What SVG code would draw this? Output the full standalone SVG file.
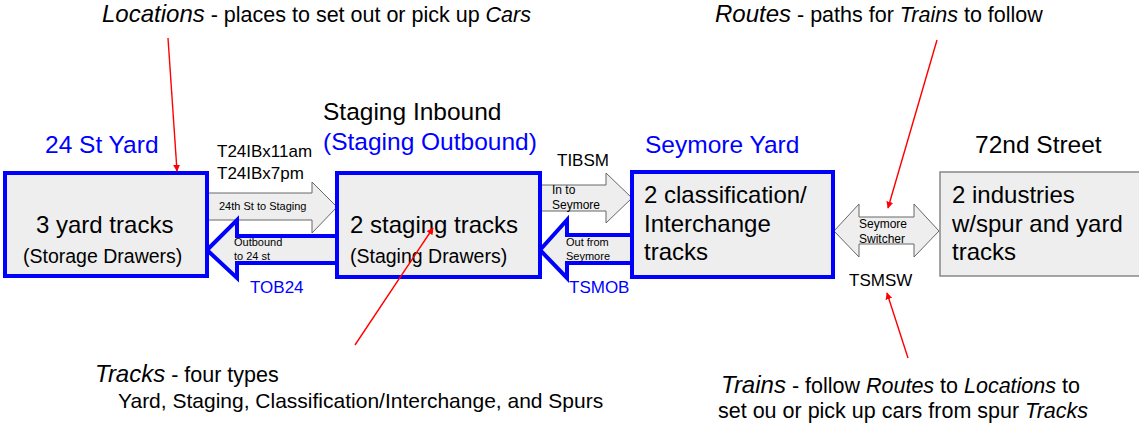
<svg xmlns="http://www.w3.org/2000/svg" width="1139" height="427" viewBox="0 0 1139 427">
  <style>
    text { font-family: "Liberation Sans", Arial, sans-serif; fill: #000; }
    .blue { fill: #0000ff; }
    .it { font-style: italic; }
    .box { fill: #eeeeee; stroke: #0000ff; stroke-width: 4; }
    .box-plain { fill: #eeeeee; stroke: #888888; stroke-width: 1.5; }
    .arr-gray { fill: #eeeeee; stroke: #666666; stroke-width: 1; stroke-linejoin: miter; }
    .arr-blue { fill: #eeeeee; stroke: #0000ff; stroke-width: 4; stroke-linejoin: miter; }
    .note { stroke: #ff0000; stroke-width: 1.4; fill: none; marker-end: url(#red-head); }
    .t24 { font-size: 24px; }
    .h24 { font-size: 24.5px; }
    .t19 { font-size: 19.5px; }
    .t17 { font-size: 17px; }
    .t11 { font-size: 11px; }
    .t12 { font-size: 12px; }
    .t21 { font-size: 21.5px; }
    .t21s { font-size: 21px; }
  </style>
  <defs>
    <marker id="red-head" viewBox="0 0 10 10" refX="9" refY="5" markerWidth="7" markerHeight="7" markerUnits="userSpaceOnUse" orient="auto">
      <path d="M0,0 L10,5 L0,10 Z" fill="#ff0000"/>
    </marker>
  </defs>

  <!-- connectors: train routes between locations -->
  <g id="connectors">
    <path class="arr-gray" d="M207,193 L312,193 L312,182 L337,207 L312,233 L312,220 L207,220 Z"/>
    <path class="arr-blue" d="M207,250 L237,220 L237,236 L337,236 L337,263 L237,263 L237,278 Z"/>
    <path class="arr-gray" d="M540,185 L606,185 L606,173 L632,198 L606,223 L606,211 L540,211 Z"/>
    <path class="arr-blue" d="M540,250 L567,220 L567,235 L632,235 L632,263 L567,263 L567,278 Z"/>
    <path class="arr-gray" d="M834,231 L859,204 L859,217 L914,217 L914,204 L939,231 L914,257 L914,244 L859,244 L859,257 Z"/>

    <text class="t17" x="217" y="157">T24IBx11am</text>
    <text class="t17" x="217" y="179">T24IBx7pm</text>
    <text class="t11" x="219" y="210">24th St to Staging</text>
    <text class="t11" x="234" y="246">Outbound</text>
    <text class="t11" x="234" y="260">to 24 st</text>
    <text class="t17 blue" x="250" y="293">TOB24</text>

    <text class="t17" x="557" y="166">TIBSM</text>
    <text class="t12" x="552" y="194">In to</text>
    <text class="t12" x="552" y="209">Seymore</text>
    <text class="t11" x="566" y="246">Out from</text>
    <text class="t11" x="566" y="260">Seymore</text>
    <text class="t17 blue" x="569" y="293">TSMOB</text>

    <text class="t12" x="859" y="228">Seymore</text>
    <text class="t12" x="859" y="243">Switcher</text>
    <text class="t17" x="849" y="286">TSMSW</text>
  </g>

  <!-- 24 St Yard -->
  <g id="yard24">
    <text class="h24 blue" x="45" y="153">24 St Yard</text>
    <rect class="box" x="5" y="173" width="202" height="103"/>
    <text class="t24" x="36" y="233">3 yard tracks</text>
    <text class="t19" x="23" y="263">(Storage Drawers)</text>
  </g>

  <!-- Staging -->
  <g id="staging">
    <text class="h24" x="323" y="120">Staging Inbound</text>
    <text class="h24 blue" x="323" y="150">(Staging Outbound)</text>
    <rect class="box" x="337" y="173" width="203" height="104"/>
    <text class="t24" x="350" y="233">2 staging tracks</text>
    <text class="t19" x="350" y="263">(Staging Drawers)</text>
  </g>

  <!-- Seymore Yard -->
  <g id="seymore">
    <text class="h24 blue" x="645" y="153">Seymore Yard</text>
    <rect class="box" x="632" y="172" width="201" height="105"/>
    <text class="t24" x="644" y="203">2 classification/</text>
    <text class="t24" x="644" y="232">Interchange</text>
    <text class="t24" x="644" y="260">tracks</text>
  </g>

  <!-- 72nd Street -->
  <g id="street72">
    <text class="h24" x="975" y="153">72nd Street</text>
    <rect class="box-plain" x="940" y="172" width="210" height="104"/>
    <text class="t24" x="952" y="203">2 industries</text>
    <text class="t24" x="952" y="232">w/spur and yard</text>
    <text class="t24" x="952" y="260">tracks</text>
  </g>

  <!-- explanatory notes -->
  <g id="notes">
    <text x="102" y="22" class="t21"><tspan class="it t24">Locations</tspan> - places to set out or pick up <tspan class="it">Cars</tspan></text>
    <line class="note" x1="168" y1="38" x2="177" y2="171"/>

    <text x="715" y="22" class="t21"><tspan class="it t24">Routes</tspan> - paths for <tspan class="it">Trains</tspan> to follow</text>
    <line class="note" x1="937" y1="40" x2="888" y2="208"/>

    <text x="95" y="382" class="t21"><tspan class="it t24">Tracks</tspan> - four types</text>
    <text x="118" y="408" class="t21s">Yard, Staging, Classification/Interchange, and Spurs</text>
    <line class="note" x1="355" y1="345" x2="433" y2="228"/>

    <text x="721" y="393" class="t21"><tspan class="it t24">Trains</tspan> - follow <tspan class="it">Routes</tspan> to <tspan class="it">Locations</tspan> to</text>
    <text x="718" y="418" class="t21">set ou or pick up cars from spur <tspan class="it">Tracks</tspan></text>
    <line class="note" x1="908" y1="358" x2="887" y2="293"/>
  </g>
</svg>
